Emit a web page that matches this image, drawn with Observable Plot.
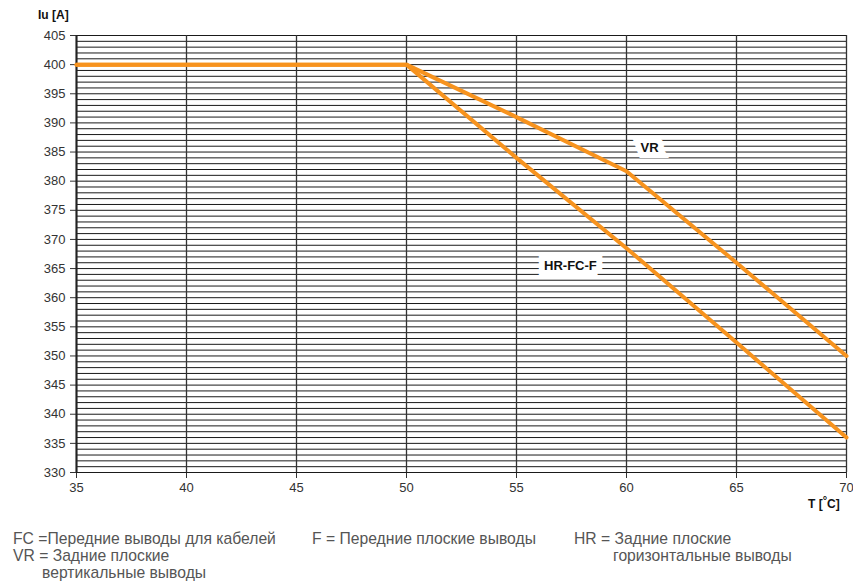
<!DOCTYPE html>
<html>
<head>
<meta charset="utf-8">
<script src="https://cdn.jsdelivr.net/npm/d3@7"></script>
<script src="https://cdn.jsdelivr.net/npm/@observablehq/plot@0.6"></script>
<style>
  body { margin: 0; background: #fff; }
  #wrap { position: relative; width: 853px; height: 588px; font-family: "Liberation Sans", Arial, sans-serif; }
  .ax { position: absolute; font-weight: bold; font-size: 12px; color: #111; }
  .leg { position: absolute; font-family: "Liberation Sans", Arial, sans-serif; font-size: 15.7px; line-height: 17px; color: #555; white-space: nowrap; }
</style>
</head>
<body>
<div id="wrap">
  <div id="chart"></div>
  <div class="ax" style="left:38px;top:8px;">Iu [A]</div>
  <div class="ax" style="left:808px;top:497px;">T [<span style="font-size:11px;position:relative;top:-4px;">°</span>C]</div>
  <div class="leg" style="left:13px;top:530px;">FC =Передние выводы для кабелей</div>
  <div class="leg" style="left:312px;top:530px;">F = Передние плоские выводы</div>
  <div class="leg" style="left:574px;top:530px;">HR = Задние плоские</div>
  <div class="leg" style="left:613px;top:547px;">горизонтальные выводы</div>
  <div class="leg" style="left:13px;top:547px;">VR = Задние плоские</div>
  <div class="leg" style="left:42px;top:564px;">вертикальные выводы</div>
</div>
<script>
// Temperature (°C)
const temps = [35, 40, 45, 50, 55, 60, 65, 70];
// Iu [A] for VR (rear vertical terminals)
const vrValues = [400, 400, 400, 400, 391, 381.7, 366, 350];
// Iu [A] for HR-FC-F
const hrValues = [400, 400, 400, 400, 384, 368.5, 352.3, 336];
// Axis ticks
const xTicks = [35, 40, 45, 50, 55, 60, 65, 70];
const yTicks = [330, 335, 340, 345, 350, 355, 360, 365, 370, 375, 380, 385, 390, 395, 400, 405];
const yGrid = d3.range(330, 406, 1);
// Curve labels
const labelNames = ["VR", "HR-FC-F"];
const labelX = [61.05, 57.45];
const labelY = [385.8, 365.4];

const vr = temps.map((t, i) => ({t, v: vrValues[i]}));
const hr = temps.map((t, i) => ({t, v: hrValues[i]}));
const labels = labelNames.map((name, i) => ({name, x: labelX[i], y: labelY[i]}));

const orange = "#f7931e";

const chart = Plot.plot({
  width: 853,
  height: 510,
  marginLeft: 76,
  marginRight: 7,
  marginTop: 35,
  marginBottom: 38,
  style: {fontFamily: "'Liberation Sans', Arial, sans-serif", fontSize: "13px", color: "#333", background: "#fff"},
  x: {domain: [35, 70], ticks: xTicks, tickSize: 6, tickPadding: 4, label: null},
  y: {domain: [330, 405], ticks: yTicks, tickSize: 6, tickPadding: 5, label: null},
  marks: [
    Plot.ruleY(yGrid, {stroke: "#1a1a1a", strokeWidth: 1}),
    Plot.ruleX(xTicks, {stroke: "#333", strokeWidth: 1.3}),
    Plot.ruleX([35], {stroke: "#222", strokeWidth: 2}),
    Plot.text(labels, {x: "x", y: "y", text: "name", fontWeight: "bold", fontSize: 13, fill: "#111", stroke: "#fff", strokeWidth: 12, strokeLinejoin: "miter"}),
    Plot.line(hr, {x: "t", y: "v", stroke: orange, strokeWidth: 4}),
    Plot.line(vr, {x: "t", y: "v", stroke: orange, strokeWidth: 4})
  ]
});
document.getElementById("chart").appendChild(chart);
</script>
</body>
</html>
